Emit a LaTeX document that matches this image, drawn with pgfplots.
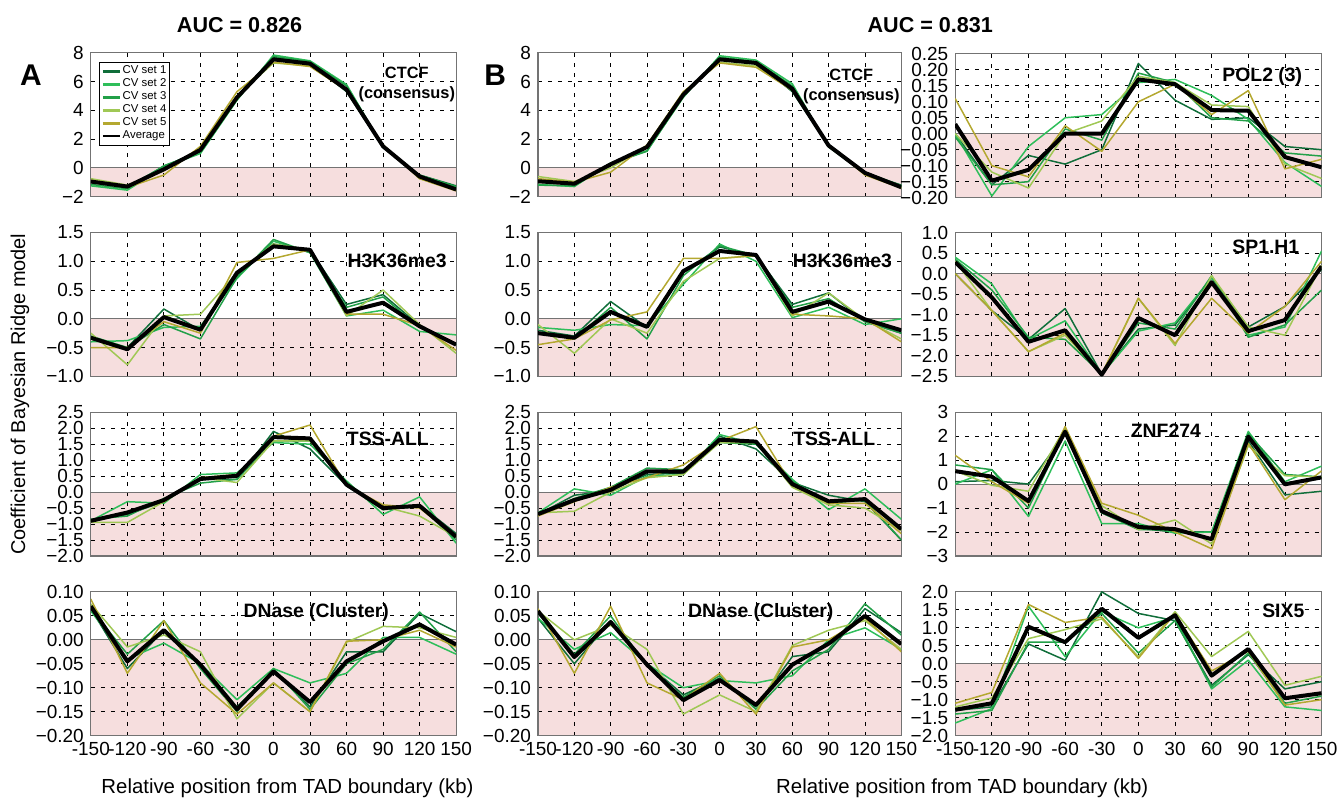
\documentclass[border=0pt]{standalone}
\usepackage{fontspec}
\setmainfont{Liberation Sans}
\usepackage{pgfplots}
\usepackage{pgfplotstable}
\pgfplotsset{compat=1.18}
\definecolor{cvA}{RGB}{16,110,58}
\definecolor{cvB}{RGB}{46,190,90}
\definecolor{cvC}{RGB}{34,160,72}
\definecolor{cvD}{RGB}{160,200,85}
\definecolor{cvE}{RGB}{180,168,48}
\definecolor{pinkbg}{RGB}{246,222,222}
\definecolor{framec}{RGB}{115,115,115}

\pgfplotstableread{
x c1 c2 c3 c4 c5 avg
-150 -1.0 -1.25 -1.15 -0.75 -0.85 -0.95
-120 -1.3 -1.55 -1.45 -1.2 -1.35 -1.3
-90 0.1 0.05 0.15 -0.2 -0.5 -0.1
-60 1.2 1.0 1.1 1.4 1.5 1.25
-30 4.8 4.7 4.8 5.0 5.3 4.9
0 7.7 7.85 7.75 7.3 7.35 7.55
30 7.3 7.45 7.4 7.1 7.05 7.25
60 5.3 5.8 5.7 5.4 5.4 5.45
90 1.4 1.45 1.5 1.6 1.6 1.5
120 -0.5 -0.55 -0.5 -0.75 -0.75 -0.6
150 -1.25 -1.35 -1.3 -1.55 -1.6 -1.5
}\tAa
\pgfplotstableread{
x c1 c2 c3 c4 c5 avg
-150 -1.0 -1.15 -1.2 -0.6 -0.75 -0.93
-120 -1.1 -1.3 -1.25 -0.95 -1.0 -1.1
-90 0.3 0.35 0.3 0.0 -0.3 0.25
-60 1.4 1.2 1.15 1.5 1.6 1.45
-30 5.0 4.9 5.0 5.2 5.3 5.1
0 7.6 7.8 7.7 7.35 7.3 7.55
30 7.35 7.5 7.4 7.1 7.0 7.3
60 5.3 5.85 5.7 5.4 5.4 5.5
90 1.5 1.45 1.5 1.6 1.6 1.55
120 -0.35 -0.4 -0.3 -0.45 -0.5 -0.35
150 -1.2 -1.3 -1.25 -1.4 -1.4 -1.35
}\tBa
\pgfplotstableread{
x c1 c2 c3 c4 c5 avg
-150 0.0 0.0 -0.01 0.0 0.11 0.03
-120 -0.16 -0.195 -0.16 -0.12 -0.10 -0.147
-90 -0.068 -0.04 -0.15 -0.17 -0.135 -0.113
-60 -0.095 0.05 0.015 0.0 0.025 0.0
-30 -0.05 0.06 -0.02 0.04 -0.055 0.0
0 0.22 0.16 0.19 0.18 0.10 0.17
30 0.105 0.17 0.16 0.16 0.155 0.155
60 0.045 0.12 0.05 0.09 0.06 0.074
90 0.05 0.045 0.04 0.085 0.135 0.072
120 -0.04 -0.09 -0.06 -0.095 -0.11 -0.073
150 -0.05 -0.165 -0.07 -0.14 -0.08 -0.105
}\tCa
\pgfplotstableread{
x c1 c2 c3 c4 c5 avg
-150 -0.35 -0.4 -0.3 -0.25 -0.5 -0.33
-120 -0.5 -0.38 -0.5 -0.8 -0.5 -0.53
-90 0.17 -0.15 -0.1 0.05 -0.05 0.03
-60 -0.2 -0.13 -0.35 0.08 -0.25 -0.19
-30 0.75 0.7 0.72 0.8 0.98 0.8
0 1.3 1.35 1.38 1.3 1.05 1.26
30 1.2 1.15 1.15 1.2 1.2 1.2
60 0.25 0.05 0.2 0.05 0.08 0.12
90 0.42 0.15 0.38 0.5 0.08 0.28
120 -0.12 -0.22 -0.15 -0.1 -0.12 -0.13
150 -0.45 -0.28 -0.45 -0.6 -0.55 -0.45
}\tAb
\pgfplotstableread{
x c1 c2 c3 c4 c5 avg
-150 -0.2 -0.15 -0.25 -0.1 -0.45 -0.25
-120 -0.3 -0.2 -0.35 -0.6 -0.35 -0.33
-90 0.3 -0.1 0.2 0.0 -0.02 0.12
-60 -0.15 -0.12 -0.35 -0.25 0.12 -0.14
-30 0.8 0.6 0.75 0.65 1.05 0.83
0 1.25 1.3 1.27 1.05 1.05 1.18
30 1.1 1.0 1.1 1.1 1.1 1.11
60 0.25 0.02 0.2 0.05 0.08 0.12
90 0.45 0.2 0.35 0.45 0.05 0.3
120 -0.05 -0.1 -0.05 -0.02 0.0 -0.01
150 -0.25 0.0 -0.25 -0.35 -0.4 -0.2
}\tBb
\pgfplotstableread{
x c1 c2 c3 c4 c5 avg
-150 0.0 0.4 0.35 0.3 0.0 0.28
-120 -0.9 -0.25 -0.4 -0.9 -0.9 -0.58
-90 -1.6 -1.6 -1.55 -1.9 -1.9 -1.66
-60 -0.85 -1.15 -1.6 -1.5 -1.45 -1.38
-30 -2.45 -2.45 -2.45 -2.45 -2.45 -2.46
0 -1.35 -1.4 -1.2 -0.6 -0.6 -1.08
30 -1.25 -1.2 -1.35 -1.75 -1.7 -1.5
60 -0.1 -0.1 -0.05 -0.05 -0.6 -0.21
90 -1.3 -1.5 -1.55 -1.3 -1.45 -1.4
120 -0.8 -1.3 -1.25 -1.5 -0.8 -1.13
150 0.1 0.55 -0.4 0.2 0.3 0.18
}\tCb
\pgfplotstableread{
x c1 c2 c3 c4 c5 avg
-150 -0.9 -0.9 -0.85 -0.95 -0.9 -0.9
-120 -0.7 -0.3 -0.75 -0.95 -0.65 -0.64
-90 -0.3 -0.35 -0.2 -0.3 -0.3 -0.25
-60 0.4 0.55 0.28 0.45 0.45 0.41
-30 0.4 0.6 0.4 0.3 0.55 0.51
0 1.9 1.55 1.6 1.6 1.75 1.72
30 1.35 1.5 1.6 1.6 2.1 1.68
60 0.2 0.35 0.3 0.25 0.2 0.23
90 -0.55 -0.7 -0.55 -0.45 -0.4 -0.5
120 -0.4 -0.15 -0.45 -0.75 -0.5 -0.43
150 -1.3 -1.6 -1.5 -1.4 -1.4 -1.4
}\tAc
\pgfplotstableread{
x c1 c2 c3 c4 c5 avg
-150 -0.7 -0.65 -0.7 -0.65 -0.75 -0.69
-120 -0.1 0.1 -0.2 -0.6 -0.3 -0.25
-90 0.05 -0.1 0.15 0.0 0.15 0.07
-60 0.55 0.5 0.75 0.45 0.45 0.65
-30 0.6 0.55 0.7 0.55 0.85 0.64
0 1.75 1.8 1.55 1.55 1.6 1.64
30 1.35 1.5 1.5 1.55 2.05 1.58
60 0.3 0.4 0.35 0.15 0.2 0.25
90 -0.1 -0.55 -0.35 -0.4 -0.35 -0.29
120 -0.3 0.1 -0.25 -0.5 -0.35 -0.22
150 -1.5 -0.85 -1.5 -1.2 -1.3 -1.16
}\tBc
\pgfplotstableread{
x c1 c2 c3 c4 c5 avg
-150 0.1 0.0 0.8 0.55 1.2 0.54
-120 0.15 0.6 0.6 -0.05 0.1 0.31
-90 0.0 -1.35 -1.0 -0.3 -0.8 -0.71
-60 2.1 1.8 2.2 2.35 2.4 2.19
-30 -1.2 -1.65 -1.2 -0.9 -0.8 -1.13
0 -1.85 -1.65 -1.9 -1.9 -1.3 -1.79
30 -2.0 -2.05 -1.9 -1.5 -2.0 -1.88
60 -2.0 -2.0 -2.3 -2.5 -2.7 -2.3
90 1.8 2.2 2.1 1.6 1.7 1.98
120 -0.45 0.1 0.4 0.35 -0.65 -0.01
150 -0.3 0.75 0.3 0.3 0.55 0.28
}\tCc
\pgfplotstableread{
x c1 c2 c3 c4 c5 avg
-150 0.065 0.06 0.065 0.075 0.085 0.07
-120 -0.06 -0.04 -0.03 -0.015 -0.07 -0.045
-90 0.02 -0.007 0.04 0.01 0.04 0.02
-60 -0.05 -0.05 -0.06 -0.025 -0.09 -0.052
-30 -0.14 -0.125 -0.15 -0.165 -0.155 -0.145
0 -0.065 -0.06 -0.06 -0.09 -0.09 -0.066
30 -0.14 -0.09 -0.145 -0.15 -0.15 -0.13
60 -0.025 -0.07 -0.05 -0.005 -0.003 -0.045
90 -0.025 0.005 -0.02 0.028 0.0 -0.003
120 0.055 0.005 0.058 0.025 0.02 0.032
150 0.017 -0.03 -0.025 0.005 -0.015 -0.01
}\tAd
\pgfplotstableread{
x c1 c2 c3 c4 c5 avg
-150 0.045 0.045 0.055 0.06 0.065 0.06
-120 -0.05 -0.02 -0.03 0.0 -0.07 -0.036
-90 0.04 0.015 0.05 0.03 0.07 0.037
-60 -0.05 -0.05 -0.055 -0.02 -0.09 -0.052
-30 -0.115 -0.1 -0.12 -0.155 -0.125 -0.126
0 -0.08 -0.085 -0.075 -0.115 -0.07 -0.084
30 -0.14 -0.09 -0.145 -0.15 -0.155 -0.136
60 -0.035 -0.075 -0.065 -0.012 -0.015 -0.052
90 -0.025 0.0 -0.02 0.02 0.0 -0.008
120 0.065 0.025 0.075 0.04 0.045 0.05
150 0.015 -0.02 0.01 -0.02 -0.025 -0.009
}\tBd
\pgfplotstableread{
x c1 c2 c3 c4 c5 avg
-150 -1.3 -1.65 -1.4 -1.2 -1.1 -1.28
-120 -1.2 -1.25 -1.3 -0.95 -0.8 -1.1
-90 0.55 1.6 0.6 0.7 1.65 1.03
-60 0.1 0.2 0.6 0.95 1.15 0.6
-30 2.0 1.45 1.4 1.25 1.3 1.53
0 1.4 1.0 0.3 0.2 0.15 0.72
30 1.2 1.3 1.2 1.45 1.4 1.35
60 -0.6 -0.7 -0.65 0.2 -0.2 -0.33
90 0.25 0.1 0.3 0.9 0.35 0.41
120 -0.7 -1.2 -1.1 -0.6 -1.15 -0.96
150 -0.5 -1.3 -0.9 -0.35 -1.0 -0.82
}\tCd

\tikzset{ttl/.style={font=\bfseries\fontsize{9.7}{10}\selectfont, inner sep=0pt}}
\pgfplotsset{
 panel/.style={
  scale only axis, width=183pt, height=72pt,
  anchor=north west,
  xmin=-150, xmax=150,
  xtick={-150,-120,-90,-60,-30,0,30,60,90,120,150},
  xticklabels={},
  grid=major,
  major grid style={black, line width=0.4pt, dash pattern=on 2pt off 3pt},
  axis line style={framec, line width=0.6pt},
  major tick length=0pt,
  tick label style={font=\fontsize{9.5}{10}\selectfont},
  /pgf/number format/assume math mode=true,
  set layers,
 },
 bottomrow/.style={xticklabels={-150,-120,-90,-60,-30,0,30,60,90,120,150}},
 cv1/.style={cvA, line width=0.75pt, line join=round},
 cv2/.style={cvB, line width=0.75pt, line join=round},
 cv3/.style={cvC, line width=0.75pt, line join=round},
 cv4/.style={cvD, line width=0.75pt, line join=round},
 cv5/.style={cvE, line width=0.75pt, line join=round},
 avgl/.style={black, line width=2pt, line join=round},
}
\newcommand{\bgfill}[1]{%
 \addplot[forget plot, draw=none, fill=pinkbg, on layer=axis background] coordinates {(-150,#1) (150,#1)} \closedcycle;
 \addplot[forget plot, color=framec, line width=0.5pt] coordinates {(-150,0) (150,0)};
}
\newcommand{\sixlines}[1]{%
 \addplot[cv1] table[x=x,y=c1]{#1};
 \addplot[cv2] table[x=x,y=c2]{#1};
 \addplot[cv3] table[x=x,y=c3]{#1};
 \addplot[cv4] table[x=x,y=c4]{#1};
 \addplot[cv5] table[x=x,y=c5]{#1};
 \addplot[avgl] table[x=x,y=avg]{#1};
}

\begin{document}
\begin{tikzpicture}

% ---------- Row 1 ----------
\begin{axis}[panel, at={(45.5pt,376.5pt)}, ymin=-2, ymax=8, ytick={-2,0,2,4,6,8}, yticklabels={−2,0,2,4,6,8},
 legend style={at={(axis description cs:0.022,0.9375)}, anchor=north west, font=\fontsize{5.7}{6.4}\selectfont, draw=black, line width=0.5pt, inner sep=1pt, row sep=-0.6pt, nodes={inner sep=0.8pt}},
 legend cell align=left,
 legend image code/.code={\draw[#1, line width=1.4pt] (0pt,0pt) -- (8.5pt,0pt);}]
\bgfill{-2}
\sixlines{\tAa}
\node[ttl, font=\bfseries\fontsize{8.2}{10}\selectfont, align=center, anchor=north east] at (axis description cs:0.998,0.905) {CTCF\\(consensus)};
\legend{CV set 1, CV set 2, CV set 3, CV set 4, CV set 5, Average}
\end{axis}

\begin{axis}[panel, width=182pt, at={(269.5pt,376.5pt)}, ymin=-2, ymax=8, ytick={-2,0,2,4,6,8}, yticklabels={−2,0,2,4,6,8}]
\bgfill{-2}
\sixlines{\tBa}
\node[ttl, font=\bfseries\fontsize{8.2}{10}\selectfont, align=center, anchor=north east] at (axis description cs:0.996,0.89) {CTCF\\(consensus)};
\end{axis}

\begin{axis}[panel, width=183.5pt, at={(478.5pt,376pt)}, ymin=-0.2, ymax=0.25, ytick={-0.2,-0.15,-0.1,-0.05,0,0.05,0.1,0.15,0.2,0.25}, yticklabels={−0.20,−0.15,−0.10,−0.05,0.00,0.05,0.10,0.15,0.20,0.25}]
\bgfill{-0.2}
\sixlines{\tCa}
\node[ttl, anchor=east] at (axis description cs:0.948,0.846) {POL2 (3)};
\end{axis}

% ---------- Row 2 ----------
\begin{axis}[panel, at={(45.5pt,286.5pt)}, ymin=-1, ymax=1.5, ytick={-1,-0.5,0,0.5,1,1.5}, yticklabels={−1.0,−0.5,0.0,0.5,1.0,1.5}]
\bgfill{-1}
\sixlines{\tAb}
\node[ttl, anchor=east] at (axis description cs:0.975,0.80) {H3K36me3};
\end{axis}

\begin{axis}[panel, width=182pt, at={(269.5pt,286.5pt)}, ymin=-1, ymax=1.5, ytick={-1,-0.5,0,0.5,1,1.5}, yticklabels={−1.0,−0.5,0.0,0.5,1.0,1.5}]
\bgfill{-1}
\sixlines{\tBb}
\node[ttl, anchor=east] at (axis description cs:0.975,0.80) {H3K36me3};
\end{axis}

\begin{axis}[panel, width=183.5pt, at={(478.5pt,286.5pt)}, ymin=-2.5, ymax=1, ytick={-2.5,-2,-1.5,-1,-0.5,0,0.5,1}, yticklabels={−2.5,−2.0,−1.5,−1.0,−0.5,0.0,0.5,1.0}]
\bgfill{-2.5}
\sixlines{\tCb}
\node[ttl, anchor=east] at (axis description cs:0.94,0.903) {SP1.H1};
\end{axis}

% ---------- Row 3 ----------
\begin{axis}[panel, at={(45.5pt,196.5pt)}, ymin=-2, ymax=2.5, ytick={-2,-1.5,-1,-0.5,0,0.5,1,1.5,2,2.5}, yticklabels={−2.0,−1.5,−1.0,−0.5,0.0,0.5,1.0,1.5,2.0,2.5}]
\bgfill{-2}
\sixlines{\tAc}
\node[ttl, anchor=east] at (axis description cs:0.926,0.8125) {TSS-ALL};
\end{axis}

\begin{axis}[panel, width=182pt, at={(269.5pt,196.5pt)}, ymin=-2, ymax=2.5, ytick={-2,-1.5,-1,-0.5,0,0.5,1,1.5,2,2.5}, yticklabels={−2.0,−1.5,−1.0,−0.5,0.0,0.5,1.0,1.5,2.0,2.5}]
\bgfill{-2}
\sixlines{\tBc}
\node[ttl, anchor=east] at (axis description cs:0.929,0.8125) {TSS-ALL};
\end{axis}

\begin{axis}[panel, width=183.5pt, at={(478.5pt,196.5pt)}, ymin=-3, ymax=3, ytick={-3,-2,-1,0,1,2,3}, yticklabels={−3,−2,−1,0,1,2,3}]
\bgfill{-3}
\sixlines{\tCc}
\node[ttl] at (axis description cs:0.575,0.868) {ZNF274};
\end{axis}

% ---------- Row 4 ----------
\begin{axis}[panel, bottomrow, at={(45.5pt,106.5pt)}, ymin=-0.2, ymax=0.1, ytick={-0.2,-0.15,-0.1,-0.05,0,0.05,0.1}, yticklabels={−0.20,−0.15,−0.10,−0.05,0.00,0.05,0.10}]
\bgfill{-0.2}
\sixlines{\tAd}
\node[ttl] at (axis description cs:0.617,0.86) {DNase (Cluster)};
\end{axis}

\begin{axis}[panel, bottomrow, width=182pt, at={(269.5pt,106.5pt)}, ymin=-0.2, ymax=0.1, ytick={-0.2,-0.15,-0.1,-0.05,0,0.05,0.1}, yticklabels={−0.20,−0.15,−0.10,−0.05,0.00,0.05,0.10}]
\bgfill{-0.2}
\sixlines{\tBd}
\node[ttl] at (axis description cs:0.613,0.86) {DNase (Cluster)};
\end{axis}

\begin{axis}[panel, bottomrow, width=183.5pt, at={(478.5pt,106.5pt)}, ymin=-2, ymax=2, ytick={-2,-1.5,-1,-0.5,0,0.5,1,1.5,2}, yticklabels={−2.0,−1.5,−1.0,−0.5,0.0,0.5,1.0,1.5,2.0}]
\bgfill{-2}
\sixlines{\tCd}
\node[ttl, anchor=east] at (axis description cs:0.954,0.87) {SIX5};
\end{axis}

% ---------- Figure labels ----------
\node[font=\bfseries\fontsize{10.8}{12}\selectfont] at (120pt,390.5pt) {AUC = 0.826};
\node[font=\bfseries\fontsize{10.8}{12}\selectfont] at (466pt,390.5pt) {AUC = 0.831};
\node[font=\bfseries\fontsize{15}{16}\selectfont] at (15.5pt,365.5pt) {A};
\node[font=\bfseries\fontsize{15}{16}\selectfont] at (248pt,365.5pt) {B};
\node[font=\fontsize{10}{12}\selectfont, rotate=90] at (10pt,205.5pt) {Coefficient of Bayesian Ridge model};
\node[font=\fontsize{10.2}{12}\selectfont] at (144pt,8pt) {Relative position from TAD boundary (kb)};
\node[font=\fontsize{10.2}{12}\selectfont] at (482pt,8pt) {Relative position from TAD boundary (kb)};
\path[use as bounding box] (0pt,0pt) rectangle (672pt,403pt);
\end{tikzpicture}
\end{document}
